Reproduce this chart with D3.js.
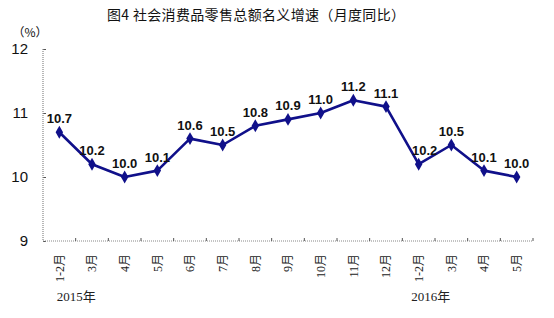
<!DOCTYPE html>
<html>
<head>
<meta charset="utf-8">
<script src="https://cdn.jsdelivr.net/npm/d3@7"></script>
<style>
  body { margin: 0; background: #fff; }
  svg { display: block; }
</style>
</head>
<body>
<svg width="554" height="318"></svg>
<script>
// data
var months = ["1-2月", "3月", "4月", "5月", "6月", "7月", "8月", "9月", "10月", "11月", "12月", "1-2月", "3月", "4月", "5月"];
var growth = [10.7, 10.2, 10.0, 10.1, 10.6, 10.5, 10.8, 10.9, 11.0, 11.2, 11.1, 10.2, 10.5, 10.1, 10.0];
var yTicks = [9, 10, 11, 12];
var years = [{ label: "2015年", at: 0 }, { label: "2016年", at: 11 }];

var svg = d3.select("svg");
var lineColor = "#10108a";
var axisColor = "#888";

// plot box
var plotLeft = 43, plotRight = 533, plotTop = 49, plotBottom = 241;

var x = d3.scaleBand()
    .domain(d3.range(months.length))
    .range([plotLeft, plotRight]);

var y = d3.scaleLinear()
    .domain([9, 12])
    .range([plotBottom, plotTop]);

function cx(i) { return x(i) + x.bandwidth() / 2; }

// title
svg.append("text")
    .attr("x", 107)
    .attr("y", 20)
    .attr("textLength", 298)
    .attr("lengthAdjust", "spacing")
    .style("font-family", "'Noto Sans CJK SC', sans-serif")
    .style("font-size", "14px")
    .style("fill", "#111")
    .text("图4 社会消费品零售总额名义增速（月度同比）");

svg.append("text")
    .attr("x", 30)
    .attr("y", 37)
    .attr("text-anchor", "middle")
    .style("font-family", "'Noto Sans CJK SC', sans-serif")
    .style("font-size", "12px")
    .style("fill", "#111")
    .text("（%）");

//////////// AXES ////////////

// y axis
var yAxis = svg.append("g")
    .attr("transform", "translate(" + plotLeft + ",0)")
    .call(d3.axisRight(y).tickValues(yTicks).tickSize(3).tickFormat(""));
yAxis.select(".domain").remove();
yAxis.selectAll("line").attr("stroke", "#555");
svg.append("line")
    .attr("x1", plotLeft).attr("x2", plotLeft)
    .attr("y1", plotTop).attr("y2", plotBottom)
    .attr("stroke", axisColor)
    .attr("stroke-width", 1.2)
    .attr("stroke-dasharray", "1,1");

svg.append("g").selectAll("text")
    .data(yTicks)
    .enter().append("text")
    .attr("x", 28)
    .attr("y", d => y(d))
    .attr("dy", "0.36em")
    .attr("text-anchor", "end")
    .style("font-family", "'Liberation Sans', Arial, sans-serif")
    .style("font-size", "15px")
    .style("fill", "#111")
    .text(d => d);

// x axis
svg.append("line")
    .attr("x1", plotLeft).attr("x2", plotRight)
    .attr("y1", plotBottom).attr("y2", plotBottom)
    .attr("stroke", axisColor)
    .attr("stroke-width", 1.2)
    .attr("stroke-dasharray", "1,1");

svg.append("g").selectAll("line")
    .data(d3.range(1, months.length + 1))
    .enter().append("line")
    .attr("x1", d => plotLeft + d * x.step())
    .attr("x2", d => plotLeft + d * x.step())
    .attr("y1", plotBottom)
    .attr("y2", plotBottom - 3)
    .attr("stroke", "#555");

svg.append("g").selectAll("text")
    .data(months)
    .enter().append("text")
    .attr("transform", (d, i) => "translate(" + cx(i) + ",254) rotate(-90)")
    .attr("dy", "0.36em")
    .attr("text-anchor", "end")
    .style("font-family", "'Liberation Serif', 'Noto Sans CJK SC', serif")
    .style("font-size", "12px")
    .style("fill", "#222")
    .text(d => d);

svg.append("g").selectAll("text")
    .data(years)
    .enter().append("text")
    .attr("x", d => cx(d.at) + (d.at === 0 ? 17 : 12))
    .attr("y", 301)
    .attr("text-anchor", "middle")
    .style("font-family", "'Liberation Serif', 'Noto Sans CJK SC', serif")
    .style("font-size", "13px")
    .style("fill", "#222")
    .text(d => d.label);

//////////// LINE ////////////

var line = d3.line()
    .x((d, i) => cx(i))
    .y(d => y(d));

svg.append("path")
    .datum(growth)
    .attr("d", line)
    .attr("fill", "none")
    .attr("stroke", lineColor)
    .attr("stroke-width", 2.6)
    .attr("stroke-linejoin", "round");

svg.append("g").selectAll("path")
    .data(growth)
    .enter().append("path")
    .attr("d", d3.symbol().type(d3.symbolDiamond).size(48))
    .attr("transform", (d, i) => "translate(" + cx(i) + "," + y(d) + ")")
    .attr("fill", lineColor);

// value labels; the 2016 1-2月 one sits a little to the right of its point
svg.append("g").selectAll("text")
    .data(growth)
    .enter().append("text")
    .attr("x", (d, i) => cx(i) + (i === 11 ? 6 : 0))
    .attr("y", d => y(d) - 9)
    .attr("text-anchor", "middle")
    .style("font-family", "'Liberation Sans', Arial, sans-serif")
    .style("font-size", "13px")
    .style("font-weight", "bold")
    .style("fill", "#111")
    .text(d => d.toFixed(1));
</script>
</body>
</html>
